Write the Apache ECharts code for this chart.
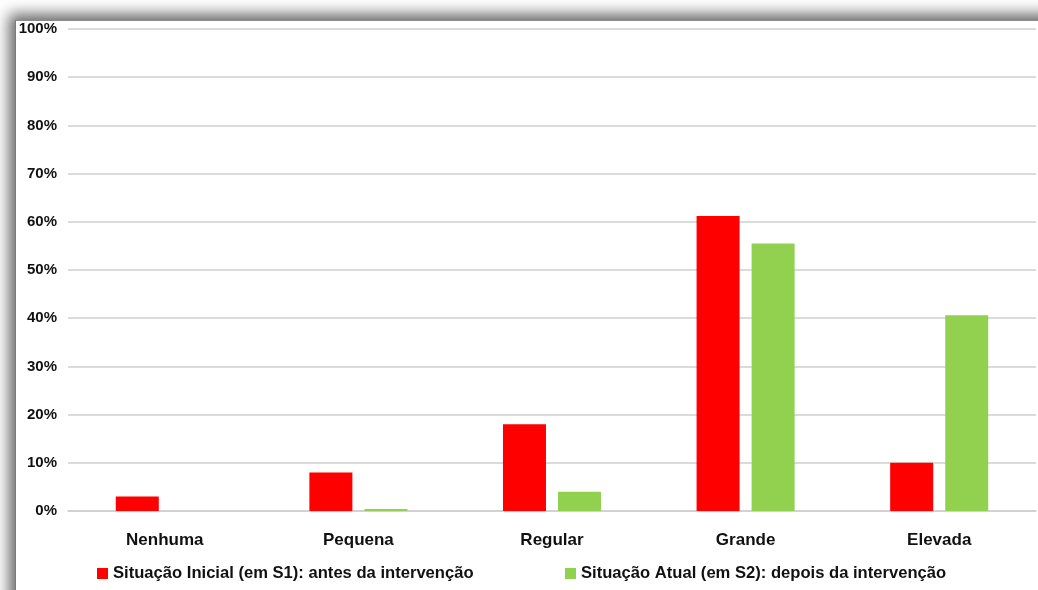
<!DOCTYPE html>
<html>
<head>
<meta charset="utf-8">
<script src="https://cdn.jsdelivr.net/npm/echarts@6/dist/echarts.min.js"></script>
<style>
  html, body { margin: 0; padding: 0; background: #ffffff; overflow: hidden; }
  #frame {
    position: absolute; left: 15px; top: 20px; width: 1100px; height: 650px;
    background: #ffffff;
    border-left: 1px solid #7a7a7a; border-top: 1px solid #8a8a8a;
    box-shadow: -4px -4px 14px 2px rgba(0,0,0,0.6);
  }
  #chart { position: absolute; left: 0; top: 0; width: 1038px; height: 590px; }
</style>
</head>
<body>
<div id="frame"></div>
<div id="chart"></div>
<script>
// Grau de satisfação: situação inicial vs. situação atual (%)
const categories = ['Nenhuma', 'Pequena', 'Regular', 'Grande', 'Elevada'];
const seriesNames = [
  'Situação Inicial (em S1): antes da intervenção',
  'Situação Atual (em S2): depois da intervenção'
];
const situacaoInicial = [3, 8, 18, 61.2, 10];
const situacaoAtual = [0, 0.4, 4, 55.5, 40.6];
const yTicks = [0, 10, 20, 30, 40, 50, 60, 70, 80, 90, 100];

const RED = '#ff0000';
const GREEN = '#92d050';
const TEXT = '#111111';
const FONT = '"Liberation Sans", Arial, sans-serif';

const legendText = { fontFamily: FONT, fontWeight: 'bold', fontSize: 16.6, color: TEXT };

const chart = echarts.init(document.getElementById('chart'), null, { renderer: 'canvas' });

chart.setOption({
  backgroundColor: 'transparent',
  animation: false,
  grid: { left: 68, right: 2, top: 29, bottom: 79, containLabel: false },
  legend: [
    {
      data: [seriesNames[0]],
      left: 97, top: 565, padding: 0,
      icon: 'rect', itemWidth: 11, itemHeight: 11,
      textStyle: legendText
    },
    {
      data: [seriesNames[1]],
      left: 565, top: 565, padding: 0,
      icon: 'rect', itemWidth: 11, itemHeight: 11,
      textStyle: legendText
    }
  ],
  xAxis: {
    type: 'category',
    data: categories,
    axisLine: { show: true, lineStyle: { color: '#cfcfcf', width: 1.5 } },
    axisTick: { show: false },
    axisLabel: {
      margin: 21,
      fontFamily: FONT, fontWeight: 'bold', fontSize: 17, color: TEXT
    }
  },
  yAxis: {
    type: 'value',
    min: yTicks[0],
    max: yTicks[yTicks.length - 1],
    interval: yTicks[1] - yTicks[0],
    axisLine: { show: false },
    axisTick: { show: false },
    splitLine: { lineStyle: { color: '#cfcfcf', width: 1.5 } },
    axisLabel: {
      margin: 11,
      formatter: '{value}%',
      fontFamily: FONT, fontWeight: 'bold', fontSize: 15, color: TEXT
    }
  },
  series: [
    {
      name: seriesNames[0],
      type: 'bar',
      data: situacaoInicial,
      barWidth: 43,
      barGap: '28%',
      itemStyle: { color: RED }
    },
    {
      name: seriesNames[1],
      type: 'bar',
      data: situacaoAtual,
      barWidth: 43,
      barGap: '28%',
      itemStyle: { color: GREEN }
    }
  ]
});
</script>
</body>
</html>
